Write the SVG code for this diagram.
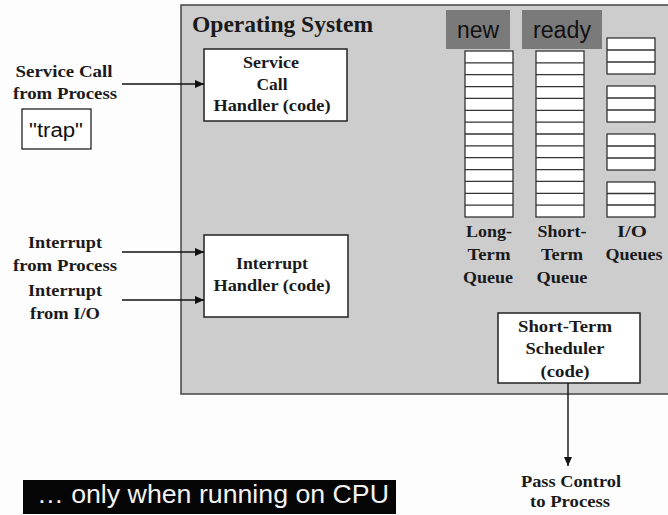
<svg xmlns="http://www.w3.org/2000/svg" width="668" height="515" viewBox="0 0 668 515">
<style>
.lbl{font-family:"Liberation Serif","Times New Roman",serif;font-weight:bold;font-size:16.5px;fill:#1a1a1a;text-anchor:middle}
.box{fill:#fff;stroke:#222;stroke-width:1.5}
.cell{fill:#fff;stroke:#333;stroke-width:1.3}
.ln{stroke:#333;stroke-width:1.3}
.sans{font-family:"Liberation Sans",Arial,sans-serif}
.conn{stroke:#111;stroke-width:1.4;fill:none}
</style>
<defs>
<marker id="ah" markerWidth="10" markerHeight="8" refX="9" refY="4" orient="auto" markerUnits="userSpaceOnUse">
<path d="M0,0 L9,4 L0,8 Z" fill="#111"/>
</marker>
</defs>
<rect width="668" height="515" fill="#fdfdfd"/>
<g id="os">
<rect x="181" y="5" width="500" height="389" fill="#cdcdcd" stroke="#444" stroke-width="1.5"/>
<text x="192" y="32" class="lbl" style="text-anchor:start;font-size:24px" textLength="181" lengthAdjust="spacingAndGlyphs">Operating System</text>
</g>
<g id="service-call-label">
<text x="64" y="77" class="lbl" textLength="97" lengthAdjust="spacingAndGlyphs">Service Call</text>
<text x="65" y="99" class="lbl" textLength="104" lengthAdjust="spacingAndGlyphs">from Process</text>
</g>
<g id="trap">
<rect x="22" y="109" width="69" height="40" fill="#fff" stroke="#222" stroke-width="1.3"/>
<text x="56" y="137" class="sans" font-size="20" text-anchor="middle" fill="#111" textLength="54" lengthAdjust="spacingAndGlyphs">"trap"</text>
</g>
<g id="service-handler">
<rect x="204" y="49" width="143" height="72" class="box"/>
<text x="271" y="68" class="lbl" textLength="56" lengthAdjust="spacingAndGlyphs">Service</text>
<text x="272" y="90" class="lbl" textLength="31" lengthAdjust="spacingAndGlyphs">Call</text>
<text x="272" y="111" class="lbl" textLength="117" lengthAdjust="spacingAndGlyphs">Handler (code)</text>
</g>
<g id="interrupt-process">
<text x="65" y="248" class="lbl" textLength="74" lengthAdjust="spacingAndGlyphs">Interrupt</text>
<text x="65" y="271" class="lbl" textLength="104" lengthAdjust="spacingAndGlyphs">from Process</text>
</g>
<g id="interrupt-io">
<text x="65" y="296" class="lbl" textLength="74" lengthAdjust="spacingAndGlyphs">Interrupt</text>
<text x="65" y="319" class="lbl" textLength="70" lengthAdjust="spacingAndGlyphs">from I/O</text>
</g>
<g id="interrupt-handler">
<rect x="204" y="235" width="144" height="82" class="box"/>
<text x="272" y="269" class="lbl" textLength="72" lengthAdjust="spacingAndGlyphs">Interrupt</text>
<text x="272" y="291" class="lbl" textLength="117" lengthAdjust="spacingAndGlyphs">Handler (code)</text>
</g>
<g id="new-tag">
<rect x="446" y="10" width="64" height="39" fill="#7a7a7a"/>
<text x="478" y="38" class="sans" font-size="23" text-anchor="middle" fill="#111" textLength="42" lengthAdjust="spacingAndGlyphs">new</text>
</g>
<g id="ready-tag">
<rect x="522" y="10" width="80" height="39" fill="#7a7a7a"/>
<text x="562" y="38" class="sans" font-size="23" text-anchor="middle" fill="#111" textLength="58" lengthAdjust="spacingAndGlyphs">ready</text>
</g>
<g id="long-term-queue">
<rect x="465" y="51" width="48" height="166" class="cell"/>
<path class="ln" d="M465,62.9H513M465,74.7H513M465,86.6H513M465,98.4H513M465,110.3H513M465,122.1H513M465,134H513M465,145.9H513M465,157.7H513M465,169.6H513M465,181.4H513M465,193.3H513M465,205.1H513"/>
<text x="489" y="237" class="lbl" textLength="46" lengthAdjust="spacingAndGlyphs">Long-</text>
<text x="489" y="260" class="lbl" textLength="43" lengthAdjust="spacingAndGlyphs">Term</text>
<text x="488" y="283" class="lbl" textLength="50" lengthAdjust="spacingAndGlyphs">Queue</text>
</g>
<g id="short-term-queue">
<rect x="536" y="51" width="48" height="166" class="cell"/>
<path class="ln" d="M536,62.9H584M536,74.7H584M536,86.6H584M536,98.4H584M536,110.3H584M536,122.1H584M536,134H584M536,145.9H584M536,157.7H584M536,169.6H584M536,181.4H584M536,193.3H584M536,205.1H584"/>
<text x="562" y="237" class="lbl" textLength="49" lengthAdjust="spacingAndGlyphs">Short-</text>
<text x="562" y="260" class="lbl" textLength="42" lengthAdjust="spacingAndGlyphs">Term</text>
<text x="562" y="283" class="lbl" textLength="51" lengthAdjust="spacingAndGlyphs">Queue</text>
</g>
<g id="io-queues">
<rect x="607" y="38" width="48" height="36" class="cell"/>
<path class="ln" d="M607,50H655M607,62H655"/>
<rect x="607" y="86" width="48" height="36" class="cell"/>
<path class="ln" d="M607,98H655M607,110H655"/>
<rect x="607" y="134" width="48" height="36" class="cell"/>
<path class="ln" d="M607,146H655M607,158H655"/>
<rect x="607" y="182" width="48" height="35" class="cell"/>
<path class="ln" d="M607,193.5H655M607,205H655"/>
<text x="632" y="237" class="lbl" textLength="30" lengthAdjust="spacingAndGlyphs">I/O</text>
<text x="634" y="260" class="lbl" textLength="57" lengthAdjust="spacingAndGlyphs">Queues</text>
</g>
<g id="scheduler">
<rect x="498" y="313" width="142" height="70" class="box"/>
<text x="565" y="332" class="lbl" textLength="94" lengthAdjust="spacingAndGlyphs">Short-Term</text>
<text x="565" y="354" class="lbl" textLength="79" lengthAdjust="spacingAndGlyphs">Scheduler</text>
<text x="565" y="377" class="lbl" textLength="49" lengthAdjust="spacingAndGlyphs">(code)</text>
</g>
<g id="pass-control">
<text x="571" y="487" class="lbl" textLength="100" lengthAdjust="spacingAndGlyphs">Pass Control</text>
<text x="570" y="507" class="lbl" textLength="80" lengthAdjust="spacingAndGlyphs">to Process</text>
</g>
<g id="note">
<rect x="23" y="480" width="373" height="34" fill="#050505"/>
<text x="37" y="503" class="sans" font-size="26" fill="#f2f2f2" textLength="352" lengthAdjust="spacingAndGlyphs">… only when running on CPU</text>
</g>
<g id="connectors">
<line x1="122" y1="84" x2="204" y2="84" class="conn" marker-end="url(#ah)"/>
<line x1="122" y1="252" x2="204" y2="252" class="conn" marker-end="url(#ah)"/>
<line x1="122" y1="300" x2="204" y2="300" class="conn" marker-end="url(#ah)"/>
<line x1="568" y1="383" x2="568" y2="466" class="conn" marker-end="url(#ah)"/>
</g>
</svg>
